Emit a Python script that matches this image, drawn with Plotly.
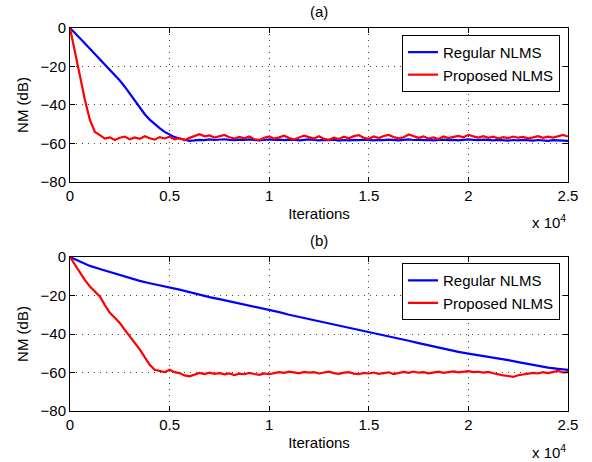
"""NLMS convergence comparison: normalized misalignment vs iterations."""

import plotly.graph_objects as go
from plotly.subplots import make_subplots

# iteration grids
iters_250 = list(range(0, 25001, 250))
iters_500 = list(range(0, 25001, 500))

# (a) regular NLMS, NM in dB, every 250 iterations
regular_a = [
    0, -2.5, -5, -8, -10.8, -13.5, -16.5, -19.3, -22, -24.6,
    -27.3, -30.5, -34, -37.8, -41.5, -44.8, -47.6, -50, -52, -54,
    -55.5, -56.7, -57.4, -58, -58.6, -58.4, -58.1, -58.3, -57.9, -58.2,
    -58, -57.8, -58.1, -58.3, -58, -58.2, -57.9, -58.1, -58.4, -58.2,
    -57.9, -58.1, -58, -58.3, -58.2, -58, -58.4, -58.1, -57.9, -58.2,
    -58.4, -58.1, -58.3, -58, -58.5, -58.2, -58.4, -58.1, -58.3, -58,
    -58.2, -58.4, -58.1, -58.3, -58, -58.2, -58.4, -58.1, -57.9, -58.2,
    -58, -58.3, -58.1, -58.4, -58.2, -58, -58.3, -58.1, -58.4, -58.2,
    -57.9, -58.1, -58.3, -58, -58.2, -58.4, -58.1, -58.3, -58.5, -58.2,
    -58.4, -58.1, -58.3, -58.5, -58.2, -58.4, -58.6, -58.3, -58.5, -58.7,
    -58.6,
]

# (a) proposed NLMS, every 250 iterations
proposed_a = [
    0, -13, -25, -37.4, -47.8, -54, -55.7, -57.5, -56.8, -58.2,
    -57, -56.4, -57.8, -56.9, -57.6, -56.2, -57.3, -58, -56.7, -57.4,
    -56.5, -57.9, -57.2, -58.3, -57.1, -56.2, -55.2, -56.3, -55.8, -56.9,
    -56.1, -55.6, -56.8, -57.4, -56.6, -57.3, -56.4, -57.8, -58.2, -57,
    -56.3, -57.5, -56.8, -56, -57.2, -57.9, -56.9, -55.9, -56.7, -57.4,
    -56.2, -57.6, -58.1, -57, -57.7, -56.5, -57.3, -56.2, -55.7, -57,
    -57.6, -56.4, -57.2, -56.1, -55.6, -56.7, -57.3, -56.8, -55.3, -56.4,
    -57.1, -56.3, -57.5, -56.9, -57.7, -56.4, -57.2, -56.6, -56.1, -56.8,
    -55.5, -56.3, -56.9, -56.2, -57.1, -56.5, -57.4, -56.7, -57.2, -56.4,
    -57, -56.6, -57.3, -56.8, -56.2, -57.1, -56.5, -56.9, -56.3, -55.6,
    -56.4,
]

# (b) regular NLMS, every 500 iterations
regular_b = [
    0, -2.5, -4.6, -6.2, -7.8, -9.5, -11, -12.4, -13.6, -14.6,
    -15.7, -16.9, -18.2, -19.6, -20.8, -21.9, -23, -24.1, -25.2, -26.3,
    -27.4, -28.6, -30, -31.1, -32.2, -33.3, -34.4, -35.5, -36.6, -37.7,
    -38.9, -40.1, -41.2, -42.3, -43.5, -44.7, -45.9, -47.1, -48.3, -49.3,
    -50.2, -51, -51.8, -52.7, -53.6, -54.6, -55.6, -56.6, -57.5, -58.1,
    -58.6,
]

# (b) proposed NLMS, every 250 iterations
proposed_b = [
    0, -4, -8.3, -12, -15.3, -18, -20.5, -25, -29, -31.5,
    -34.3, -37.8, -41.2, -44.5, -48, -52, -56, -58.6, -59.4, -59.8,
    -58.6, -59.8, -60.3, -61.5, -62, -61, -60.2, -60.8, -60.1, -60.7,
    -60.3, -61, -60.5, -61.3, -60.6, -60.9, -60.2, -60.8, -61.2, -60.5,
    -60.9, -60.3, -59.8, -60.2, -59.6, -59.9, -60.4, -59.7, -60.1, -59.8,
    -60.5, -60, -59.6, -60.3, -60.7, -60.1, -59.8, -60.6, -60.9, -60.2,
    -60.5, -60, -60.7, -60.3, -59.9, -60.8, -60.4, -59.7, -60.2, -59.5,
    -60.1, -59.8, -60.4, -59.9, -59.6, -60.2, -59.7, -59.4, -59.9, -59.5,
    -59.3, -59.8, -59.6, -60.1, -59.7, -60.4, -61, -61.5, -61.8, -62.3,
    -61.4, -61, -60.6, -60.2, -60.5, -59.8, -60.3, -59.6, -59.2, -60,
    -59.8,
]

x_tickvals = [0, 5000, 10000, 15000, 20000, 25000]
x_ticktext = ["0", "0.5", "1", "1.5", "2", "2.5"]

FONT = "Liberation Sans, Arial, sans-serif"
FS = 15
BLUE = "#0000ff"
RED = "#ff0000"

fig = make_subplots(rows=2, cols=1)

panels = [
    (1, iters_250, regular_a, iters_250, proposed_a, "legend"),
    (2, iters_500, regular_b, iters_250, proposed_b, "legend2"),
]
for row, xr, yr, xp, yp, leg in panels:
    fig.add_trace(
        go.Scatter(x=xr, y=yr, mode="lines", name="Regular NLMS",
                   line={"color": BLUE, "width": 2.2}, legend=leg),
        row=row, col=1,
    )
    fig.add_trace(
        go.Scatter(x=xp, y=yp, mode="lines", name="Proposed NLMS",
                   line={"color": RED, "width": 2.2}, legend=leg),
        row=row, col=1,
    )

axis_style = dict(
    showline=True, linecolor="black", linewidth=1, mirror="allticks",
    ticks="inside", ticklen=5, tickcolor="black",
    showgrid=True, gridcolor="#444444", griddash="1px,5px", gridwidth=1,
    zeroline=False, automargin=False,
    tickfont={"size": FS, "color": "black", "family": FONT},
    title_font={"size": FS, "color": "black", "family": FONT},
)

for row in (1, 2):
    fig.update_xaxes(
        axis_style, range=[0, 25000], tickvals=x_tickvals, ticktext=x_ticktext,
        title_text="Iterations", title_standoff=5, row=row, col=1,
    )
    fig.update_yaxes(
        axis_style, range=[-80, 0], dtick=20, title_text="NM (dB)",
        title_standoff=8, row=row, col=1,
    )

fig.update_layout(
    xaxis={"domain": [0, 1]},
    yaxis={"domain": [0.598, 1]},
    xaxis2={"domain": [0, 1]},
    yaxis2={"domain": [0, 0.402]},
)

legend_style = dict(
    bgcolor="white", bordercolor="black", borderwidth=1,
    font={"size": FS, "color": "black", "family": FONT},
    xanchor="right", yanchor="top", x=0.984, tracegroupgap=0,
)

fig.update_layout(
    width=592,
    height=462,
    margin={"l": 70, "r": 24, "t": 28, "b": 51},
    paper_bgcolor="white",
    plot_bgcolor="white",
    font={"family": FONT, "size": FS, "color": "black"},
    legend={**legend_style, "y": 0.982},
    legend2={**legend_style, "y": 0.386},
    annotations=[
        dict(text="(a)", x=0.5, y=1.044, xref="paper", yref="paper",
             showarrow=False, font={"size": FS}, yanchor="middle"),
        dict(text="(b)", x=0.5, y=0.446, xref="paper", yref="paper",
             showarrow=False, font={"size": FS}, yanchor="middle"),
        dict(text="x 10<sup>4</sup>", x=1, y=0.598, xref="paper", yref="paper",
             showarrow=False, font={"size": FS}, xanchor="right",
             yanchor="middle", yshift=-40),
        dict(text="x 10<sup>4</sup>", x=1, y=0, xref="paper", yref="paper",
             showarrow=False, font={"size": FS}, xanchor="right",
             yanchor="middle", yshift=-40),
    ],
)

# page body has a default margin; remove it so the figure fills the window
fig.write_html(
    "out.html",
    config={"displayModeBar": False},
    post_script="document.body.style.margin='0';",
)
